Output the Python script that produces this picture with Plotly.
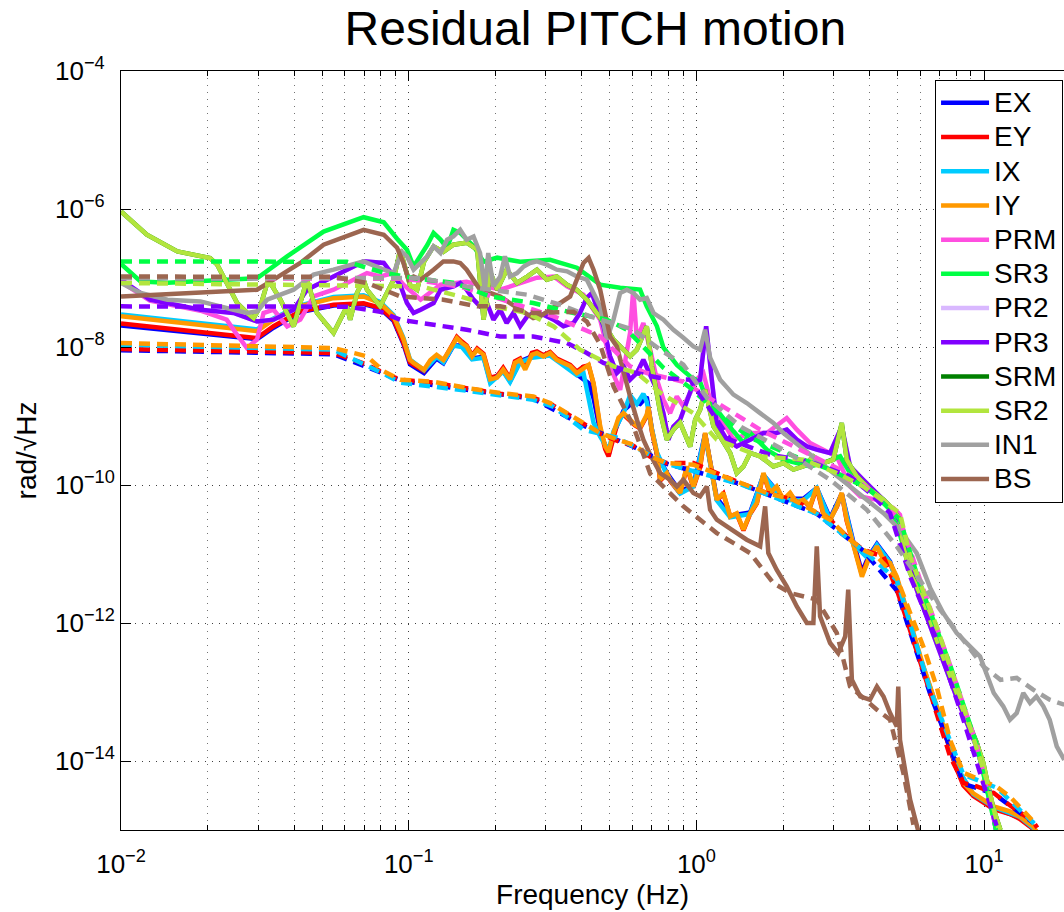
import plotly.graph_objects as go

# ---------------- data (frequency in Hz, ASD in rad/sqrt(Hz)) ----------------
f_tm = [0.01, 0.0297, 0.0339, 0.042, 0.0548, 0.0697, 0.0796, 0.0886, 0.0959, 0.101,
        0.104, 0.113, 0.119, 0.125, 0.132, 0.143, 0.147, 0.153, 0.159, 0.166,
        0.173, 0.182, 0.192, 0.203, 0.213, 0.225, 0.234, 0.244, 0.254, 0.268,
        0.279, 0.294, 0.310, 0.327, 0.345, 0.364, 0.384, 0.405, 0.422, 0.439,
        0.463, 0.482, 0.495, 0.515, 0.536, 0.558, 0.588, 0.612, 0.637, 0.672,
        0.681, 0.700, 0.729, 0.748, 0.789, 0.810, 0.878, 0.926, 0.976, 1.03,
        1.072, 1.131, 1.177, 1.241, 1.31, 1.381, 1.457, 1.537, 1.622, 1.71,
        1.80, 1.90, 2.006, 2.117, 2.233, 2.354, 2.484, 2.62, 2.76, 2.915,
        3.075, 3.2, 3.33, 3.51, 3.76, 3.96, 4.24, 4.47, 4.71, 4.97,
        5.24, 5.53, 5.83, 6.15, 6.49, 6.84, 7.21, 7.61, 8.03, 8.47,
        9.17, 10.8, 12.3, 13.3, 14.8, 15.2]

v_iy = [2.8e-8, 1.7e-8, 2.5e-8, 3.9e-8, 5.1e-8, 5.4e-8, 4.3e-8, 2.8e-8, 1.3e-8, 6.5e-9,
        5.9e-9, 4.7e-9, 6.5e-9, 7.7e-9, 6.5e-9, 1.14e-8, 1.35e-8, 1.14e-8, 1.02e-8, 7.3e-9,
        9.1e-9, 7.7e-9, 3.4e-9, 3.6e-9, 4.7e-9, 3.4e-9, 5.9e-9, 6.5e-9, 4.7e-9, 7.7e-9,
        8.2e-9, 7.3e-9, 8.2e-9, 6.5e-9, 5.9e-9, 5.3e-9, 4.2e-9, 5.0e-9, 5.5e-9, 3.0e-9,
        7.1e-10, 3.6e-10, 3.0e-10, 5.7e-10, 9.4e-10, 1.1e-9, 8.8e-10, 7.5e-10, 6.8e-10, 1.04e-9,
        1.36e-9, 6.3e-10, 2.9e-10, 1.19e-10, 1.49e-10, 1.19e-10, 7.7e-11, 1.86e-10, 9.5e-11, 1.86e-10,
        5.7e-10, 1.49e-10, 6.1e-11, 7.7e-11, 3.5e-11, 3.9e-11, 2.25e-11, 3.9e-11, 5.5e-11, 1.49e-10,
        7.7e-11, 9.5e-11, 6.1e-11, 7.7e-11, 5.5e-11, 6.1e-11, 4.9e-11, 9.5e-11, 3.9e-11, 3.1e-11,
        4.9e-11, 7.7e-11, 3.1e-11, 1.36e-11, 4.7e-12, 8.3e-12, 1.29e-11, 8.3e-12, 7.4e-12, 4.7e-12,
        2.2e-12, 1.0e-12, 4.6e-13, 2.35e-13, 1.2e-13, 6.2e-14, 3.2e-14, 1.63e-14, 8.4e-15, 4.8e-15,
        3.4e-15, 2.2e-15, 1.86e-15, 1.57e-15, 1.13e-15, 9.5e-16]

v_ey = [2.2e-8, 1.35e-8, 2.0e-8, 3.3e-8, 4.1e-8, 4.3e-8, 3.7e-8, 2.5e-8, 1.15e-8, 6.0e-9,
        5.5e-9, 4.5e-9, 6.3e-9, 7.4e-9, 6.3e-9, 1.2e-8, 1.4e-8, 1.2e-8, 1.05e-8, 7.5e-9,
        9.5e-9, 8.0e-9, 3.6e-9, 3.8e-9, 5.0e-9, 3.5e-9, 6.2e-9, 6.8e-9, 5.0e-9, 8.2e-9,
        8.6e-9, 7.6e-9, 8.5e-9, 6.8e-9, 6.1e-9, 5.5e-9, 4.4e-9, 5.2e-9, 5.4e-9, 2.9e-9,
        6.5e-10, 3.3e-10, 2.6e-10, 5.2e-10, 9.0e-10, 1.05e-9, 8.5e-10, 7.3e-10, 6.6e-10, 1.0e-9,
        1.3e-9, 6.0e-10, 2.8e-10, 1.15e-10, 1.45e-10, 1.15e-10, 7.5e-11, 1.8e-10, 9.2e-11, 1.8e-10,
        5.5e-10, 1.45e-10, 6.0e-11, 7.5e-11, 3.5e-11, 3.8e-11, 2.2e-11, 3.8e-11, 5.4e-11, 1.45e-10,
        7.5e-11, 9.2e-11, 6.0e-11, 7.5e-11, 5.4e-11, 6.0e-11, 4.8e-11, 9.2e-11, 3.8e-11, 3.2e-11,
        4.8e-11, 7.5e-11, 3.0e-11, 1.4e-11, 5.0e-12, 8.5e-12, 1.3e-11, 8.5e-12, 7.2e-12, 4.5e-12,
        2.0e-12, 9.0e-13, 4.1e-13, 2.1e-13, 1.05e-13, 5.4e-14, 2.8e-14, 1.45e-14, 7.6e-15, 4.4e-15,
        3.1e-15, 2.0e-15, 1.7e-15, 1.45e-15, 1.05e-15, 9.5e-16]

f_ex = [0.01, 0.0297, 0.0339, 0.042, 0.0548, 0.0697, 0.0796, 0.0886, 0.0959, 0.101,
        0.113, 0.125, 0.132, 0.143, 0.153, 0.166, 0.182, 0.192, 0.213, 0.225,
        0.244, 0.268, 0.310, 0.345, 0.384, 0.405, 0.422, 0.439, 0.463, 0.495,
        0.515, 0.558, 0.604, 0.637, 0.672, 0.700, 0.729, 0.789, 0.878, 0.976,
        1.072, 1.177, 1.31, 1.537, 1.71, 2.006, 2.354, 2.62, 2.915, 3.2,
        3.51, 3.76, 3.96, 4.24, 4.71, 5.24, 5.83, 6.49, 7.21, 8.03,
        9.17, 10.8, 13.3, 15.0]
v_ex = [2.05e-8, 1.3e-8, 1.9e-8, 3.2e-8, 4.0e-8, 4.2e-8, 3.6e-8, 2.4e-8, 1.1e-8, 5.6e-9,
        4.2e-9, 6.8e-9, 5.8e-9, 1.05e-8, 1.05e-8, 6.8e-9, 7.2e-9, 3.2e-9, 4.5e-9, 3.2e-9,
        6.2e-9, 7.3e-9, 7.8e-9, 5.6e-9, 4.0e-9, 3.4e-9, 3.0e-9, 1.8e-9, 6.0e-10, 2.7e-10,
        5.5e-10, 1.2e-9, 1.6e-9, 1.5e-9, 1.9e-9, 6.5e-10, 2.8e-10, 1.5e-10, 8.0e-11, 1.0e-10,
        5.5e-10, 6.5e-11, 3.6e-11, 4.0e-11, 1.4e-10, 6.3e-11, 6.3e-11, 9.0e-11, 3.3e-11, 7.5e-11,
        1.5e-11, 5.5e-12, 9.0e-12, 1.4e-11, 7.8e-12, 2.1e-12, 4.3e-13, 1.1e-13, 2.9e-14, 7.8e-15,
        3.2e-15, 2.1e-15, 1.5e-15, 1.0e-15]

f_ix = [0.01, 0.0297, 0.0339, 0.042, 0.0548, 0.0697, 0.0796, 0.0886, 0.0959, 0.101,
        0.113, 0.125, 0.132, 0.143, 0.153, 0.166, 0.182, 0.192, 0.213, 0.225,
        0.244, 0.268, 0.310, 0.345, 0.384, 0.405, 0.422, 0.439, 0.463, 0.495,
        0.515, 0.558, 0.588, 0.621, 0.654, 0.672, 0.700, 0.729, 0.789, 0.878,
        0.976, 1.072, 1.177, 1.31, 1.537, 1.71, 2.006, 2.354, 2.62, 2.915,
        3.2, 3.51, 3.96, 4.24, 4.71, 5.24, 5.83, 6.49, 7.21, 8.03,
        9.17, 10.8, 13.3, 15.1]
v_ix = [2.95e-8, 1.8e-8, 2.6e-8, 4.0e-8, 5.3e-8, 5.6e-8, 4.5e-8, 2.9e-8, 1.35e-8, 6.6e-9,
        4.6e-9, 7.2e-9, 6.0e-9, 1.05e-8, 1.0e-8, 6.6e-9, 7.0e-9, 3.0e-9, 4.4e-9, 3.1e-9,
        6.0e-9, 7.0e-9, 7.5e-9, 5.5e-9, 3.9e-9, 4.2e-9, 1.8e-9, 8.0e-10, 5.0e-10, 3.2e-10,
        6.0e-10, 1.1e-9, 2.0e-9, 1.5e-9, 2.1e-9, 1.6e-9, 6.5e-10, 3.0e-10, 1.4e-10, 7.5e-11,
        9.5e-11, 5.3e-10, 6.0e-11, 3.4e-11, 3.8e-11, 1.4e-10, 6.0e-11, 6.0e-11, 9.0e-11, 3.1e-11,
        7.3e-11, 1.4e-11, 8.5e-12, 1.35e-11, 7.5e-12, 2.2e-12, 4.5e-13, 1.15e-13, 3.1e-14, 8.2e-15,
        3.3e-15, 2.15e-15, 1.55e-15, 1.0e-15]

f_prm = [0.01, 0.0126, 0.0189, 0.0233, 0.0253, 0.0274, 0.0297, 0.0313, 0.0339, 0.0378,
         0.042, 0.0467, 0.0548, 0.0643, 0.0716, 0.0796, 0.0886, 0.0959, 0.110, 0.129,
         0.159, 0.208, 0.279, 0.319, 0.355, 0.405, 0.463, 0.515, 0.543, 0.588,
         0.603, 0.621, 0.654, 0.691, 0.729, 0.768, 0.810, 0.855, 0.901, 0.951,
         1.0, 1.057, 1.116, 1.345, 1.537, 1.757, 1.953, 2.06, 2.233, 2.484,
         2.76, 3.075, 3.42, 3.71, 4.24, 4.84, 5.10, 5.31, 5.83, 6.84,
         8.03, 9.43, 10.34, 11.2]
v_prm = [8.83e-8, 4.69e-8, 3.36e-8, 2.49e-8, 1.51e-8, 9.67e-9, 1.28e-8, 3.11e-8, 3.47e-8, 1.99e-8,
         2.49e-8, 5.41e-8, 6.76e-8, 9.45e-8, 1.18e-7, 1.05e-7, 1.18e-7, 7.98e-8, 4.85e-8, 7.98e-8,
         8.83e-8, 6.76e-8, 1.01e-7, 1.05e-7, 7.56e-8, 5.73e-8, 2.49e-8, 3.97e-9, 2.4e-9, 1.6e-8,
         6.76e-8, 1.28e-8, 2.23e-8, 9.14e-9, 3.36e-9, 1.72e-9, 1.1e-9, 1.92e-9, 1.38e-9, 2.15e-9,
         3.36e-9, 4.2e-9, 1.72e-9, 4.54e-10, 5.67e-10, 5.67e-10, 7.92e-10, 9.35e-10, 6.34e-10, 4.06e-10,
         3.25e-10, 2.6e-10, 9.5e-11, 6.83e-11, 6.1e-11, 4.64e-11, 3.71e-11, 1.36e-11, 3.59e-12, 5.73e-13,
         9.77e-14, 1.84e-14, 4.24e-15, 1.0e-15]

f_sr3 = [0.01, 0.0117, 0.0145, 0.0189, 0.0297, 0.0378, 0.0506, 0.0697, 0.0819, 0.0911,
         0.0986, 0.104, 0.110, 0.116, 0.122, 0.129, 0.136, 0.143, 0.151, 0.159,
         0.168, 0.182, 0.203, 0.244, 0.310, 0.384, 0.463, 0.543, 0.637, 0.672,
         0.729, 0.768, 0.855, 0.951, 1.03, 1.087, 1.177, 1.345, 1.457, 1.537,
         1.757, 2.006, 2.233, 2.484, 2.76, 3.16, 3.42, 3.80, 4.47, 4.84,
         5.24, 5.83, 6.84, 8.03, 9.43, 10.34, 11.0]
v_sr3 = [1.6e-7, 8.9e-8, 8.5e-8, 8.9e-8, 9.9e-8, 2.06e-7, 4.7e-7, 7.6e-7, 6.4e-7, 3.7e-7,
         2.57e-7, 1.47e-7, 2.06e-7, 3.0e-7, 4.5e-7, 3.6e-7, 2.7e-7, 5.0e-7, 4.5e-7, 3.6e-7,
         2.9e-7, 1.72e-7, 1.97e-7, 1.72e-7, 1.84e-7, 1.41e-7, 8.0e-8, 7.2e-8, 6.8e-8, 3.9e-8,
         2.0e-8, 9.8e-9, 5.5e-9, 3.75e-9, 3.1e-9, 1.72e-9, 1.23e-9, 6.0e-10, 4.06e-10, 5.7e-10,
         3.25e-10, 2.33e-10, 2.08e-10, 1.86e-10, 2.08e-10, 2.6e-10, 1.49e-10, 9.5e-11, 6.1e-11, 3.9e-11,
         1.29e-11, 3.4e-12, 5.7e-13, 9.7e-14, 1.82e-14, 4.3e-15, 1.0e-15]

f_pr3 = [0.01, 0.0126, 0.0189, 0.0246, 0.0297, 0.0339, 0.0398, 0.0443, 0.0548, 0.0697,
         0.0819, 0.0934, 0.0986, 0.104, 0.110, 0.122, 0.129, 0.143, 0.151, 0.159,
         0.168, 0.177, 0.187, 0.197, 0.208, 0.219, 0.231, 0.244, 0.258, 0.271,
         0.294, 0.319, 0.345, 0.374, 0.394, 0.416, 0.433, 0.451, 0.475, 0.501,
         0.529, 0.558, 0.588, 0.621, 0.654, 0.729, 0.768, 0.799, 0.832, 0.878,
         0.926, 0.976, 1.03, 1.081, 1.131, 1.177, 1.275, 1.381, 1.537, 1.71,
         1.90, 2.06, 2.233, 2.42, 2.62, 2.915, 3.2, 3.42, 3.80, 4.24,
         4.71, 5.10, 5.31, 5.83, 6.84, 8.03, 9.43, 10.34, 11.0]
v_pr3 = [9.45e-8, 4.85e-8, 3.47e-8, 3.11e-8, 2.35e-8, 2.49e-8, 3.47e-8, 6.76e-8, 1.05e-7, 1.74e-7,
         1.65e-7, 7.98e-8, 4.34e-8, 3.11e-8, 3.47e-8, 4.34e-8, 6.76e-8, 7.56e-8, 8.47e-8, 6.76e-8,
         4.85e-8, 3.88e-8, 4.34e-8, 2.49e-8, 3.47e-8, 2.23e-8, 3.11e-8, 2.0e-8, 2.78e-8, 3.11e-8,
         2.94e-8, 2.49e-8, 2.0e-8, 2.23e-8, 3.11e-8, 5.18e-8, 6.06e-8, 3.88e-8, 2.0e-8, 7.33e-9,
         4.2e-9, 5.25e-9, 3.36e-9, 4.2e-9, 6.54e-9, 2.4e-9, 1.1e-9, 4.54e-10, 7.07e-10, 8.83e-10,
         1.72e-9, 3.0e-9, 3.36e-9, 2.0e-8, 3.36e-9, 7.92e-10, 4.54e-10, 3.63e-10, 4.54e-10, 5.67e-10,
         5.67e-10, 6.34e-10, 4.54e-10, 3.63e-10, 3.25e-10, 2.91e-10, 7.07e-10, 1.86e-10, 1.19e-10, 7.66e-11,
         4.9e-11, 2.94e-11, 1.15e-11, 3.04e-12, 4.85e-13, 8.27e-14, 1.56e-14, 3.84e-15, 1.0e-15]

f_sr2 = [0.01, 0.0123, 0.0157, 0.0204, 0.0216, 0.0233, 0.0253, 0.0274, 0.0289, 0.0305,
         0.0325, 0.0358, 0.0398, 0.0443, 0.048, 0.0548, 0.061, 0.0626, 0.0661, 0.0697,
         0.0716, 0.0796, 0.0886, 0.0934, 0.101, 0.107, 0.113, 0.122, 0.132, 0.143,
         0.159, 0.173, 0.182, 0.192, 0.203, 0.219, 0.238, 0.258, 0.279, 0.302,
         0.327, 0.355, 0.384, 0.416, 0.463, 0.515, 0.588, 0.621, 0.672, 0.700,
         0.748, 0.789, 0.832, 0.878, 0.926, 0.951, 0.99, 1.03, 1.072, 1.146,
         1.209, 1.31, 1.381, 1.457, 1.537, 1.665, 1.851, 2.006, 2.173, 2.354,
         2.55, 2.76, 2.99, 3.2, 3.33, 3.61, 4.01, 4.47, 4.84, 5.10,
         5.24, 5.53, 5.83, 6.32, 6.84, 7.41, 8.03, 8.70, 9.43, 9.94,
         10.34, 10.8, 11.4]
v_sr2 = [9.2e-7, 4.24e-7, 2.43e-7, 1.95e-7, 1.56e-7, 8.56e-8, 4.38e-8, 3.14e-8, 2.63e-8, 3.88e-8,
         9.45e-8, 4.85e-8, 1.99e-8, 9.45e-8, 3.11e-8, 1.6e-8, 3.88e-8, 2.49e-8, 6.06e-8, 9.45e-8,
         6.76e-8, 3.88e-8, 9.45e-8, 2.57e-7, 7.98e-8, 6.76e-8, 1.72e-7, 2.87e-7, 2.4e-7, 3.04e-7,
         3.25e-7, 2.57e-7, 2.49e-8, 1.23e-7, 6.76e-8, 1.32e-7, 8.47e-8, 1.05e-7, 1.32e-7, 9.45e-8,
         1.05e-7, 7.98e-8, 6.76e-8, 4.85e-8, 2.66e-8, 1.28e-8, 7.33e-9, 9.14e-9, 1.99e-8, 5.25e-9,
         1.15e-9, 4.54e-10, 6.34e-10, 7.98e-10, 4.54e-10, 3.59e-10, 8.83e-10, 1.23e-9, 2.4e-9, 7.07e-10,
         5.0e-10, 2.91e-10, 1.49e-10, 1.86e-10, 2.91e-10, 2.6e-10, 1.86e-10, 2.08e-10, 1.67e-10, 1.86e-10,
         2.6e-10, 2.08e-10, 2.33e-10, 7.92e-10, 2.33e-10, 1.33e-10, 8.56e-11, 6.1e-11, 4.38e-11, 3.14e-11,
         1.29e-11, 5.3e-12, 3.39e-12, 1.56e-12, 5.73e-13, 2.35e-13, 9.67e-14, 3.97e-14, 1.82e-14, 9.35e-15,
         4.28e-15, 1.97e-15, 1.0e-15]

f_in1 = [0.01, 0.0117, 0.0145, 0.0189, 0.0246, 0.0274, 0.0297, 0.0322, 0.0398, 0.0467,
         0.0548, 0.0697, 0.0819, 0.0886, 0.0947, 0.0986, 0.104, 0.116, 0.122, 0.129,
         0.136, 0.143, 0.151, 0.159, 0.168, 0.177, 0.184, 0.189, 0.197, 0.208,
         0.216, 0.225, 0.238, 0.251, 0.264, 0.279, 0.302, 0.327, 0.355, 0.384,
         0.416, 0.439, 0.463, 0.488, 0.515, 0.543, 0.573, 0.604, 0.637, 0.672,
         0.709, 0.768, 0.832, 0.901, 0.976, 1.03, 1.072, 1.116, 1.209, 1.345,
         1.496, 1.665, 1.851, 2.006, 2.293, 2.62, 2.99, 3.42, 3.91, 4.47,
         5.10, 5.83, 6.49, 7.21, 8.03, 8.93, 9.68, 10.07, 10.8, 11.66,
         12.3, 12.98, 13.68, 14.44, 15.2, 16.06, 16.9, 17.88, 19.0]
v_in1 = [8.47e-8, 6.06e-8, 4.85e-8, 4.58e-8, 3.47e-8, 3.11e-8, 3.28e-8, 4.85e-8, 6.76e-8, 1.12e-7,
         1.32e-7, 1.74e-7, 1.32e-7, 1.18e-7, 2.4e-7, 2.06e-7, 1.32e-7, 2.06e-7, 2.87e-7, 2.3e-7,
         3.59e-7, 4.0e-7, 5.0e-7, 3.59e-7, 4.0e-7, 2.3e-7, 6.76e-8, 2.3e-7, 7.56e-8, 1.05e-7,
         2.06e-7, 1.05e-7, 1.18e-7, 1.47e-7, 1.65e-7, 1.74e-7, 1.56e-7, 1.32e-7, 1.25e-7, 1.05e-7,
         9.45e-8, 6.06e-8, 3.88e-8, 1.28e-8, 2.49e-8, 6.06e-8, 6.76e-8, 6.06e-8, 4.85e-8, 5.13e-8,
         3.11e-8, 2.49e-8, 1.78e-8, 1.36e-8, 1.02e-8, 9.14e-9, 1.78e-8, 7.0e-9, 3.36e-9, 2.04e-9,
         1.54e-9, 1.1e-9, 7.92e-10, 5.67e-10, 3.63e-10, 2.33e-10, 1.49e-10, 9.5e-11, 6.1e-11, 3.9e-11,
         2.25e-11, 1.03e-11, 3.25e-12, 1.4e-12, 7.17e-13, 4.58e-13, 3.28e-13, 2.1e-13, 9.67e-14, 6.2e-14,
         3.97e-14, 4.96e-14, 9.67e-14, 6.93e-14, 8.6e-14, 6.2e-14, 3.97e-14, 1.63e-14, 1.04e-14]

f_bs = [0.01, 0.0189, 0.0297, 0.0339, 0.042, 0.0506, 0.0697, 0.0819, 0.0911, 0.0959,
        0.1, 0.104, 0.110, 0.122, 0.132, 0.143, 0.151, 0.159, 0.168, 0.177,
        0.192, 0.208, 0.225, 0.244, 0.271, 0.286, 0.310, 0.336, 0.364, 0.384,
        0.405, 0.422, 0.439, 0.463, 0.501, 0.529, 0.558, 0.588, 0.621, 0.654,
        0.691, 0.748, 0.810, 0.855, 0.901, 0.976, 1.03, 1.087, 1.116, 1.177,
        1.275, 1.381, 1.496, 1.665, 1.733, 1.778, 1.90, 2.06, 2.233, 2.42,
        2.55, 2.62, 2.69, 2.915, 3.11, 3.29, 3.37, 3.47, 3.71, 4.01,
        4.24, 4.47, 4.71, 4.97, 5.03, 5.10, 5.31, 5.53, 5.91]
v_bs = [5.41e-8, 6.06e-8, 6.76e-8, 9.45e-8, 1.65e-7, 3.04e-7, 5.0e-7, 4.24e-7, 2.75e-7, 1.65e-7,
        9.45e-8, 1.05e-7, 9.45e-8, 1.32e-7, 1.74e-7, 1.74e-7, 1.65e-7, 1.32e-7, 9.45e-8, 6.76e-8,
        6.06e-8, 5.41e-8, 4.34e-8, 3.47e-8, 2.63e-8, 2.78e-8, 3.47e-8, 4.34e-8, 5.41e-8, 9.45e-8,
        1.65e-7, 1.95e-7, 1.32e-7, 6.76e-8, 1.42e-8, 1.02e-8, 4.2e-9, 1.92e-9, 8.83e-10, 4.54e-10,
        2.75e-10, 1.49e-10, 1.19e-10, 9.5e-11, 1.19e-10, 7.66e-11, 6.83e-11, 9.5e-11, 4.38e-11, 3.14e-11,
        2.51e-11, 2.01e-11, 1.61e-11, 1.29e-11, 4.9e-11, 1.03e-11, 5.93e-12, 3.39e-12, 1.74e-12, 1.0e-12,
        1.0e-12, 1.29e-11, 1.25e-12, 5.13e-13, 3.67e-13, 6.4e-13, 3.04e-12, 1.5e-13, 8.6e-14, 7.74e-14,
        1.2e-13, 8.6e-14, 4.96e-14, 3.17e-14, 1.2e-13, 2.03e-14, 6.7e-15, 2.75e-15, 9.5e-16]

# model (dashed) curves
fm_ex = [0.01, 0.0548, 0.0819, 0.0934, 0.159, 0.271, 0.405, 0.604, 0.789, 1.419,
         2.62, 3.80, 4.97, 6.49, 8.47, 10.8, 14.8]
vm_ex = [8.98e-9, 7.86e-9, 4.1e-9, 3.25e-9, 2.4e-9, 1.78e-9, 7.23e-10, 3.59e-10, 2.03e-10, 1.04e-10,
         3.84e-11, 1.12e-11, 2.94e-12, 9.45e-14, 4.69e-15, 3.36e-15, 1.28e-15]

fm_ey = [0.01, 0.042, 0.0548, 0.0643, 0.0716, 0.0819, 0.0934, 0.122, 0.159, 0.208,
         0.271, 0.310, 0.355, 0.405, 0.463, 0.529, 0.604, 0.691, 0.789, 0.976,
         1.419, 1.757, 2.173, 2.62, 2.915, 3.42, 3.80, 4.47, 4.97, 5.38,
         5.83, 6.49, 7.61, 8.47, 9.43, 10.8, 11.98, 13.3, 14.8, 15.3]
vm_ey = [9.35e-9, 8.6e-9, 8.2e-9, 6.54e-9, 5.55e-9, 4.2e-9, 3.36e-9, 3.04e-9, 2.49e-9, 2.1e-9,
         1.84e-9, 1.51e-9, 1.08e-9, 7.74e-10, 5.55e-10, 4.38e-10, 3.71e-10, 2.57e-10, 2.08e-10, 2.08e-10,
         1.07e-10, 7.66e-11, 6.1e-11, 3.9e-11, 3.14e-11, 1.61e-11, 1.15e-11, 9.14e-12, 3.04e-12, 1.12e-12,
         4.1e-13, 9.77e-14, 1.17e-14, 4.8e-15, 4.28e-15, 3.44e-15, 2.46e-15, 1.84e-15, 1.32e-15, 1.08e-15]

fm_ix = [0.01, 0.0548, 0.0819, 0.0934, 0.159, 0.271, 0.319, 0.405, 0.529, 0.789,
         1.419, 2.62, 3.80, 4.97, 6.49, 8.47, 11.06, 15.2]
vm_ix = [1.08e-8, 9.14e-9, 4.1e-9, 3.04e-9, 2.33e-9, 1.72e-9, 1.36e-9, 6.34e-10, 4.85e-10, 2.03e-10,
         1.03e-10, 3.84e-11, 1.12e-11, 4.24e-12, 1.08e-13, 6.34e-15, 4.1e-15, 1.15e-15]

fm_iy = [0.01, 0.0548, 0.0716, 0.0819, 0.0934, 0.122, 0.159, 0.208, 0.271, 0.310,
         0.355, 0.405, 0.463, 0.529, 0.604, 0.691, 0.789, 0.976, 1.419, 1.757,
         2.173, 2.62, 2.915, 3.42, 3.80, 4.24, 4.97, 5.53, 6.15, 6.84,
         7.61, 8.47, 9.68, 11.06, 12.3, 13.3, 15.2]
vm_iy = [1.14e-8, 9.67e-9, 7.33e-9, 4.43e-9, 3.36e-9, 3.14e-9, 2.55e-9, 2.15e-9, 1.92e-9, 1.54e-9,
         1.1e-9, 7.92e-10, 5.67e-10, 4.54e-10, 3.84e-10, 2.6e-10, 2.08e-10, 1.97e-10, 1.07e-10, 7.66e-11,
         6.1e-11, 3.9e-11, 3.14e-11, 1.61e-11, 1.15e-11, 9.2e-12, 4.54e-12, 1.41e-12, 4.54e-13, 1.19e-13,
         2.03e-14, 6.78e-15, 5.35e-15, 4.24e-15, 3.04e-15, 2.18e-15, 1.19e-15]

fm_prm = [0.01, 0.0934, 0.110, 0.151, 0.197, 0.319, 0.463, 0.588, 0.672, 0.901,
          1.209, 1.665, 2.293, 3.16, 4.01, 5.10, 5.99, 7.61, 9.43, 10.5, 11.1]
vm_prm = [1.0e-7, 9.77e-8, 9.14e-8, 7.49e-8, 5.35e-8, 2.78e-8, 1.42e-8, 5.25e-9, 4.2e-9, 3.14e-9,
          1.46e-9, 6.34e-10, 3.25e-10, 1.67e-10, 8.56e-11, 3.14e-11, 4.24e-12, 2.49e-13, 1.72e-14, 2.33e-15, 1.0e-15]

fm_sr3 = [0.01, 0.061, 0.0819, 0.107, 0.143, 0.192, 0.271, 0.374, 0.488, 0.573,
          0.768, 0.951, 1.209, 1.537, 2.117, 2.915, 4.01, 5.10, 5.99, 7.61,
          9.43, 10.3, 11.0]
vm_sr3 = [1.74e-7, 1.72e-7, 1.19e-7, 9.77e-8, 8.56e-8, 5.41e-8, 4.34e-8, 3.11e-8, 2.49e-8, 1.78e-8,
          5.0e-9, 2.57e-9, 1.04e-9, 4.85e-10, 2.75e-10, 1.67e-10, 8.56e-11, 3.14e-11, 3.59e-12, 2.49e-13,
          1.72e-14, 3.5e-15, 1.0e-15]

fm_pr3 = [0.01, 0.061, 0.0796, 0.0934, 0.122, 0.159, 0.208, 0.271, 0.355, 0.416,
          0.475, 0.588, 0.748, 0.951, 1.31, 1.80, 2.484, 3.42, 4.01, 4.71,
          5.53, 6.84, 8.47, 10.2, 11.1]
vm_pr3 = [3.88e-8, 3.84e-8, 3.25e-8, 2.49e-8, 2.1e-8, 1.78e-8, 1.42e-8, 1.42e-8, 1.14e-8, 8.2e-9,
          5.87e-9, 4.38e-9, 3.55e-9, 3.36e-9, 4.54e-10, 2.75e-10, 2.18e-10, 1.33e-10, 7.66e-11, 3.9e-11,
          4.74e-12, 5.73e-13, 3.97e-14, 3.44e-15, 1.08e-15]

fm_sr2 = [0.01, 0.110, 0.151, 0.197, 0.258, 0.319, 0.394, 0.515, 0.621, 0.748,
          0.976, 1.177, 1.665, 2.354, 3.075, 3.80, 5.10, 5.53, 6.84, 8.47,
          10.2, 11.2]
vm_sr2 = [8.47e-8, 7.56e-8, 5.41e-8, 3.88e-8, 3.11e-8, 1.99e-8, 9.14e-9, 5.25e-9, 4.2e-9, 2.18e-9,
          1.1e-9, 4.54e-10, 2.6e-10, 2.33e-10, 1.49e-10, 9.5e-11, 3.9e-11, 9.2e-12, 8.9e-13, 6.2e-14,
          5.35e-15, 1.08e-15]

fm_in1 = [0.01, 0.110, 0.159, 0.258, 0.336, 0.427, 0.604, 0.748, 0.901, 1.087,
          1.419, 2.006, 2.915, 3.91, 4.97, 7.03, 9.94, 11.4, 12.98, 14.8,
          16.9, 19.0]
vm_in1 = [1.0e-7, 1.0e-7, 7.56e-8, 5.73e-8, 4.1e-8, 2.78e-8, 1.78e-8, 9.14e-9, 5.55e-9, 1.84e-9,
          7.07e-10, 3.25e-10, 1.19e-10, 4.38e-11, 1.29e-11, 1.56e-12, 2.35e-13, 1.5e-13, 1.6e-13, 1.08e-13,
          7.74e-14, 6.54e-14]

fm_bs = [0.01, 0.0548, 0.0716, 0.0934, 0.132, 0.173, 0.208, 0.271, 0.374, 0.416,
         0.463, 0.515, 0.604, 0.691, 0.901, 1.177, 1.537, 1.851, 2.117, 2.62,
         3.075, 3.42, 4.24, 4.71, 5.24, 5.68]
vm_bs = [1.05e-7, 1.04e-7, 8.47e-8, 5.41e-8, 4.85e-8, 3.88e-8, 3.88e-8, 3.11e-8, 3.25e-8, 2.33e-8,
         1.08e-8, 2.69e-9, 7.07e-10, 1.46e-10, 4.9e-11, 2.01e-11, 1.03e-11, 3.8e-12, 2.72e-12, 2.18e-12,
         7.17e-13, 1.2e-13, 5.54e-14, 3.97e-14, 6.7e-15, 1.19e-15]

# ---------------- styling ----------------
colors = {
    "EX": "#0000FF", "EY": "#FF0000", "IX": "#00CCFF", "IY": "#FF9900",
    "PRM": "#FF4FE0", "SR3": "#00FF44", "PR2": "#D9B8FF", "PR3": "#8000FF",
    "SRM": "#008000", "SR2": "#B2E53E", "IN1": "#A0A0A0", "BS": "#9C6650",
}

measured = [
    ("EX", f_ex, v_ex), ("EY", f_tm, v_ey), ("IX", f_ix, v_ix), ("IY", f_tm, v_iy),
    ("PRM", f_prm, v_prm), ("SR3", f_sr3, v_sr3), ("PR2", f_pr3, v_pr3), ("PR3", f_pr3, v_pr3),
    ("SRM", f_sr2, v_sr2), ("SR2", f_sr2, v_sr2), ("IN1", f_in1, v_in1), ("BS", f_bs, v_bs),
]
models = [
    ("EX", fm_ex, vm_ex), ("EY", fm_ey, vm_ey), ("IX", fm_ix, vm_ix), ("IY", fm_iy, vm_iy),
    ("PRM", fm_prm, vm_prm), ("SR3", fm_sr3, vm_sr3), ("PR3", fm_pr3, vm_pr3),
    ("SR2", fm_sr2, vm_sr2), ("IN1", fm_in1, vm_in1), ("BS", fm_bs, vm_bs),
]

LW = 4.5
fig = go.Figure()
for name, f, v in measured:
    fig.add_trace(go.Scatter(x=f, y=v, mode="lines",
                             name="<span style='font-size:28px'>" + name + "</span>",
                             line=dict(color=colors[name], width=LW)))
for name, f, v in models:
    fig.add_trace(go.Scatter(x=f, y=v, mode="lines", name=name + " model", showlegend=False,
                             line=dict(color=colors[name], width=LW, dash="11px,7px")))

x_major = [0.01, 0.1, 1, 10]
x_text = ["10<sup>\u22122</sup>", "10<sup>\u22121</sup>", "10<sup>0</sup>", "10<sup>1</sup>"]
x_minor = [m * 10.0 ** e for e in range(-2, 2) for m in range(2, 10)]
y_major = [1e-14, 1e-12, 1e-10, 1e-8, 1e-6, 1e-4]
y_text = ["10<sup>\u221214</sup>", "10<sup>\u221212</sup>", "10<sup>\u221210</sup>",
          "10<sup>\u22128\u2007</sup>", "10<sup>\u22126\u2007</sup>", "10<sup>\u22124\u2007</sup>"]

grid_major = "rgba(0,0,0,0.75)"
grid_minor = "rgba(0,0,0,0.55)"
FONT = "Liberation Sans, Arial, Helvetica, sans-serif"

fig.update_layout(
    width=1064, height=912,
    margin=dict(l=121, r=0, t=71, b=82, autoexpand=False),
    paper_bgcolor="white", plot_bgcolor="white",
    font=dict(family=FONT, color="black", size=26),
    title=dict(text="Residual PITCH motion", font=dict(size=48, color="black"),
               xref="paper", x=0.503, xanchor="center",
               yref="container", y=0.969, yanchor="middle"),
    showlegend=True,
    legend=dict(x=0.999, y=0.9885, xanchor="right", yanchor="top",
                bgcolor="white", bordercolor="black", borderwidth=1,
                font=dict(size=24, color="black"), itemwidth=48,
                tracegroupgap=0),
    xaxis=dict(type="log", range=[-2, 1.2776],
               tickmode="array", tickvals=x_major, ticktext=x_text,
               ticks="inside", ticklen=10, tickwidth=1, tickcolor="black",
               ticklabelstandoff=11,
               showline=True, linecolor="black", linewidth=1, mirror="ticks",
               showgrid=True, gridcolor=grid_major, gridwidth=1, griddash="1px,6px",
               minor=dict(tickmode="array", tickvals=x_minor, ticks="inside", ticklen=5,
                          tickcolor="black", showgrid=True, gridcolor=grid_minor,
                          gridwidth=1, griddash="1px,6px"),
               zeroline=False, tickfont=dict(size=26),
               title=dict(text="Frequency (Hz)", font=dict(size=28), standoff=0)),
    yaxis=dict(type="log", range=[-15, -4],
               tickmode="array", tickvals=y_major, ticktext=y_text,
               ticks="inside", ticklen=10, tickwidth=1, tickcolor="black",
               showline=True, linecolor="black", linewidth=1, mirror=False,
               showgrid=True, gridcolor=grid_major, gridwidth=1, griddash="1px,6px",
               zeroline=False, tickfont=dict(size=26),
               title=dict(text="rad/\u221aHz", font=dict(size=28), standoff=10)),
)

fig.write_html("out.html")
